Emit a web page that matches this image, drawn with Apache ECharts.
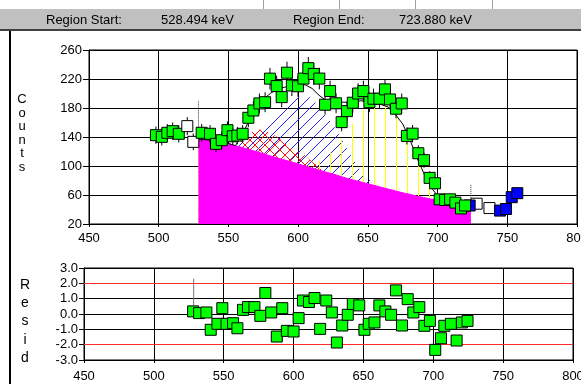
<!DOCTYPE html>
<html><head><meta charset="utf-8">
<script src="https://cdn.jsdelivr.net/npm/echarts@6/dist/echarts.min.js"></script>
<style>html,body{margin:0;padding:0;background:#fff}#c{width:581px;height:384px}</style>
</head><body><div id="c"></div>
<script>
// ---------- data ----------
const regionStart = 528.494;
const regionEnd = 723.880;

// spectrum points (keV, counts)
const preE  = [498.0, 502.2, 506.2, 510.0, 514.4];
const preC  = [142.5, 140.2, 145.8, 148.0, 144.4];
const whiteE = [520.5, 524.8, 728.0, 737.2];
const whiteC = [155.0, 133.3, 48.0, 42.0];
const regE = [530.8, 536.8, 541.1, 545.2, 549.3, 553.1, 556.4, 560.2, 564.3, 567.9, 572.2, 576.3, 579.8, 584.6, 588.2, 592.0, 595.5, 599.9, 603.8, 607.3, 611.2, 615.2, 619.3, 622.9, 627.2, 631.2, 635.0, 639.2, 643.0, 646.8, 651.1, 654.0, 658.3, 662.3, 665.9, 670.2, 674.3, 678.0, 682.1, 686.2, 690.3, 694.3, 698.2, 701.5, 705.4, 709.0, 712.8, 716.8, 719.7];
const regC = [145.8, 144.4, 130.6, 135.6, 149.4, 141.0, 142.0, 144.4, 166.5, 176.6, 186.3, 188.0, 220.5, 210.2, 195.0, 228.7, 211.0, 210.0, 220.6, 235.0, 227.0, 220.6, 184.5, 203.4, 186.5, 160.5, 175.7, 187.3, 200.0, 203.4, 188.0, 192.8, 192.8, 205.7, 191.8, 179.0, 186.3, 141.5, 144.6, 117.6, 108.0, 83.6, 76.2, 54.0, 53.1, 54.0, 49.5, 41.5, 45.5];
const blueE = [723.0, 744.8, 749.1, 753.2, 757.2];
const blueC = [45.5, 38.5, 40.7, 57.0, 62.5];

// fit components on a common energy grid (net counts above background)
const compE = [528.494, 535, 540, 545, 550, 555, 560, 565, 570, 575, 580, 585, 590, 595, 600, 605, 610, 615, 620, 625, 630, 635, 640, 645, 650, 655, 660, 665, 670, 675, 680, 685, 690, 695, 700, 705, 710, 715, 720, 723.88];
const background = [137, 136, 135, 133, 131, 128, 125.5, 122.5, 120, 117, 114, 111, 108.5, 105.5, 103, 100, 97, 94.5, 91.5, 89, 86, 83, 80.5, 78, 75.5, 73, 70.5, 68, 65.5, 63, 61, 58.5, 56.5, 54.5, 53, 51.5, 50, 49, 48, 47];
const peak1 = [0, 0, 0, 0, 0, 0, 11, 23, 30, 33, 32, 29, 24, 20, 17, 14, 9, 4, 0, 0, 0, 0, 0, 0, 0, 0, 0, 0, 0, 0, 0, 0, 0, 0, 0, 0, 0, 0, 0, 0];
const peak2 = [0, 0, 0, 0, 0, 0, 7, 18, 30, 42, 54, 66, 76, 86, 92, 98, 96, 87, 77, 68, 55, 41, 27, 15, 7, 2, 0, 0, 0, 0, 0, 0, 0, 0, 0, 0, 0, 0, 0, 0];
const peak3 = [0, 0, 0, 0, 0, 0, 0, 0, 0, 0, 0, 0, 0, 0, 0, 0, 5, 12, 22, 33, 47, 64, 81, 97, 106, 112, 114, 113, 105, 95, 76, 54, 34, 17, 6, 1, 0, 0, 0, 0];

// residuals
const resE = [528.1, 532.4, 537.6, 540.7, 545.5, 549.0, 552.0, 556.7, 559.8, 563.8, 567.4, 572.0, 576.2, 579.8, 584.0, 588.0, 591.9, 595.2, 600.0, 603.6, 606.7, 611.0, 615.0, 619.0, 623.4, 627.4, 631.0, 634.8, 638.8, 642.4, 647.0, 650.7, 653.8, 657.9, 661.4, 665.7, 669.8, 673.3, 677.6, 681.7, 685.7, 690.0, 693.6, 697.6, 701.4, 705.5, 707.9, 712.6, 716.7, 720.5, 724.5];
const resV = [0.17, 0.06, 0.10, -1.03, -0.64, 0.38, -0.64, -0.60, -0.93, 0.27, 0.45, 0.45, -0.12, 1.37, 0.10, -1.47, 0.38, -1.10, -1.14, -0.27, 0.88, 0.78, 1.04, -0.97, 0.88, 0.10, -1.86, -0.75, -0.05, 0.65, 0.56, -1.03, -0.64, -0.55, 0.56, 0.17, -0.05, 1.54, -0.75, 0.97, 0.10, 0.45, -0.77, -0.45, -2.34, -1.58, -0.77, -0.64, -1.73, -0.55, -0.45];
const residLimits = [2, -2];

// region markers (counts / residual extents)
const startMarkC = [145, 190];
const endMarkC = [45, 74];
const startMarkR = [0.1, 2.3];

// axis ticks
const xTicks = {min: 450, max: 800, step: 50};
const yTicks = {min: 20, max: 260, step: 40};
const rTicks = {min: -3, max: 3, step: 1};

// ---------- helpers ----------
const pairs = (xs, ys) => xs.map((x, i) => [x, ys[i]]);
const plus = (...arrs) => arrs[0].map((_, i) => arrs.reduce((s, a) => s + a[i], 0));
const FONT = 'Liberation Sans';

// crisp, pixel-drawn hatch tiles
function hatch(kind, color, size) {
  const c = document.createElement('canvas');
  c.width = size; c.height = size;
  const g = c.getContext('2d');
  g.fillStyle = color;
  for (let i = 0; i < size; i++) {
    if (kind === 'v' && i === 0) g.fillRect(0, 0, 1, size);
    if (kind === '/' || kind === 'x') g.fillRect(i, size - 1 - i, 1, 1);
    if (kind === 'x') g.fillRect(i, i, 1, 1);
  }
  return c;
}

const hatchSeries = (name, data, pattern) => ({
  type: 'line', name, data, xAxisIndex: 0, yAxisIndex: 0,
  symbol: 'none', silent: true, lineStyle: {opacity: 0, width: 0},
  areaStyle: {color: {image: pattern, repeat: 'repeat'}, opacity: 1, origin: 'start'}, z: 1
});

const bgPts = pairs(compE, background);
const errPts = [].concat(pairs(preE, preC), pairs(whiteE, whiteC), pairs(regE, regC), pairs(blueE, blueC));
const sq = (color) => ({color, borderColor: '#000', borderWidth: 1, opacity: 1});
const axisText = {color: '#000', fontFamily: FONT, fontSize: 13};
const SYM = 11;

const chart = echarts.init(document.getElementById('c'), null, {renderer: 'canvas'});
chart.setOption({
  animation: false,
  backgroundColor: '#fff',
  grid: [
    {left: 89, right: 4, top: 50, height: 174, show: true, borderColor: '#000', borderWidth: 1, containLabel: false, outerBoundsMode: 'none'},
    {left: 84, right: 8, top: 268, height: 92, show: true, borderColor: '#000', borderWidth: 1, containLabel: false, outerBoundsMode: 'none'}
  ],
  xAxis: [0, 1].map(i => ({
    type: 'value', gridIndex: i, min: xTicks.min, max: xTicks.max, interval: xTicks.step,
    axisLine: {show: true, onZero: false, lineStyle: {color: '#000', width: 1}},
    axisTick: {show: true, length: 3, lineStyle: {color: '#000'}},
    axisLabel: Object.assign({margin: i === 0 ? 8 : 10, showMinLabel: true, showMaxLabel: true, hideOverlap: false}, axisText),
    splitLine: {show: true, lineStyle: {color: '#000', width: 1}}
  })),
  yAxis: [
    {type: 'value', gridIndex: 0, min: yTicks.min, max: yTicks.max, interval: yTicks.step,
     axisLine: {show: true, onZero: false, lineStyle: {color: '#000'}},
     axisTick: {show: true, length: 6, lineStyle: {color: '#000'}},
     axisLabel: Object.assign({margin: 7, showMinLabel: true, showMaxLabel: true}, axisText),
     splitLine: {show: true, lineStyle: {color: '#000', width: 1}}},
    {type: 'value', gridIndex: 1, min: rTicks.min, max: rTicks.max, interval: rTicks.step,
     axisLine: {show: true, onZero: false, lineStyle: {color: '#000'}},
     axisTick: {show: true, length: 5, lineStyle: {color: '#000'}},
     axisLabel: Object.assign({margin: 6, showMinLabel: true, showMaxLabel: true, formatter: v => v.toFixed(1)}, axisText),
     splitLine: {show: true, lineStyle: {color: '#000', width: 1}}}
  ],
  series: [
    // hatched peak components (background + peak), drawn to the axis floor and covered below by the solid background
    hatchSeries('peak2', pairs(compE, plus(background, peak2)), hatch('/', '#2323ff', 11)),
    hatchSeries('peak1', pairs(compE, plus(background, peak1)), hatch('x', '#ff1010', 10)),
    hatchSeries('peak3', pairs(compE, plus(background, peak3)), hatch('v', '#ffff00', 11)),
    // solid background
    {type: 'line', name: 'background', data: bgPts, xAxisIndex: 0, yAxisIndex: 0, symbol: 'none', silent: true,
     lineStyle: {color: '#ff00ff', width: 1}, areaStyle: {color: '#ff00ff', opacity: 1, origin: 'start'}, z: 2},
    // total fit
    {type: 'line', name: 'fit', data: pairs(compE, plus(background, peak1, peak2, peak3)), xAxisIndex: 0, yAxisIndex: 0,
     symbol: 'none', silent: true, lineStyle: {color: '#000', width: 1}, z: 3},
    // region markers
    {type: 'line', data: startMarkC.map(c => [regionStart, c]), xAxisIndex: 0, yAxisIndex: 0, symbol: 'none', silent: true,
     lineStyle: {color: '#333', width: 1, type: 'dotted'}, z: 3},
    {type: 'line', data: endMarkC.map(c => [regionEnd, c]), xAxisIndex: 0, yAxisIndex: 0, symbol: 'none', silent: true,
     lineStyle: {color: '#333', width: 1, type: 'dotted'}, z: 3},
    // error bars
    {type: 'custom', xAxisIndex: 0, yAxisIndex: 0, data: errPts, silent: true, z: 4,
     renderItem: (params, api) => {
       const x = api.value(0), y = api.value(1), e = Math.sqrt(y);
       const a = api.coord([x, y + e]), b = api.coord([x, y - e]);
       return {type: 'line', shape: {x1: a[0], y1: a[1], x2: b[0], y2: b[1]}, style: {stroke: '#000', lineWidth: 1}};
     }},
    // points
    {type: 'scatter', data: pairs(preE, preC), xAxisIndex: 0, yAxisIndex: 0, symbol: 'rect', symbolSize: SYM, itemStyle: sq('#00ff00'), z: 5},
    {type: 'scatter', data: pairs(whiteE, whiteC), xAxisIndex: 0, yAxisIndex: 0, symbol: 'rect', symbolSize: SYM, itemStyle: sq('#ffffff'), z: 5},
    {type: 'scatter', data: pairs(blueE, blueC), xAxisIndex: 0, yAxisIndex: 0, symbol: 'rect', symbolSize: SYM, itemStyle: sq('#0000ff'), z: 5},
    {type: 'scatter', data: pairs(regE, regC), xAxisIndex: 0, yAxisIndex: 0, symbol: 'rect', symbolSize: SYM, itemStyle: sq('#00ff00'), z: 5},
    // residual panel: ±2 limit lines, one series per limit
    ...residLimits.map(r => ({
      type: 'custom', xAxisIndex: 1, yAxisIndex: 1, data: [[xTicks.min, r]], silent: true, z: 4,
      renderItem: (params, api) => {
        const v = api.value(1);
        const a = api.coord([xTicks.min, v]), b = api.coord([xTicks.max, v]);
        const y = Math.floor(a[1]) + 0.5;
        return {type: 'rect', shape: {x: a[0], y: y - 0.5, width: b[0] - a[0], height: 1}, style: {fill: '#ff2a2a'}};
      }
    })),
    {type: 'line', data: startMarkR.map(r => [regionStart, r]), xAxisIndex: 1, yAxisIndex: 1, symbol: 'none', silent: true,
     lineStyle: {color: '#777', width: 1}, z: 3},
    {type: 'scatter', data: pairs(resE, resV), xAxisIndex: 1, yAxisIndex: 1, symbol: 'rect', symbolSize: SYM, itemStyle: sq('#00ff00'), z: 5}
  ],
  graphic: [
    {type: 'rect', shape: {x: 0, y: 9, width: 581, height: 20}, style: {fill: '#c0c0c0'}, z: 0, silent: true},
    {type: 'rect', shape: {x: 0, y: 29, width: 581, height: 2}, style: {fill: '#404040'}, z: 0, silent: true},
    {type: 'rect', shape: {x: 9, y: 31, width: 2, height: 353}, style: {fill: '#000'}, z: 0, silent: true},
    {type: 'line', shape: {x1: 263.5, y1: 0, x2: 263.5, y2: 9}, style: {stroke: '#a0a0a0'}, silent: true},
    {type: 'line', shape: {x1: 339.5, y1: 0, x2: 339.5, y2: 9}, style: {stroke: '#a0a0a0'}, silent: true},
    {type: 'line', shape: {x1: 415.5, y1: 0, x2: 415.5, y2: 9}, style: {stroke: '#a0a0a0'}, silent: true},
    {type: 'line', shape: {x1: 492.5, y1: 0, x2: 492.5, y2: 9}, style: {stroke: '#a0a0a0'}, silent: true},
    {type: 'text', x: 46, y: 20, style: {text: 'Region Start:', fill: '#000', font: '13px ' + FONT, textVerticalAlign: 'middle'}, silent: true},
    {type: 'text', x: 161, y: 20, style: {text: regionStart.toFixed(3) + ' keV', fill: '#000', font: '13px ' + FONT, textVerticalAlign: 'middle'}, silent: true},
    {type: 'text', x: 293, y: 20, style: {text: 'Region End:', fill: '#000', font: '13px ' + FONT, textVerticalAlign: 'middle'}, silent: true},
    {type: 'text', x: 399, y: 20, style: {text: regionEnd.toFixed(3) + ' keV', fill: '#000', font: '13px ' + FONT, textVerticalAlign: 'middle'}, silent: true},
    {type: 'text', x: 22, y: 93, style: {text: 'Counts'.split('').join('\n'), fill: '#000', font: '13px ' + FONT, textAlign: 'center', textVerticalAlign: 'top', lineHeight: 13.5}, silent: true},
    {type: 'text', x: 25, y: 276, style: {text: 'Resid'.split('').join('\n'), fill: '#000', font: '14px ' + FONT, textAlign: 'center', textVerticalAlign: 'top', lineHeight: 18.2}, silent: true}
  ]
});
</script>
</body></html>
